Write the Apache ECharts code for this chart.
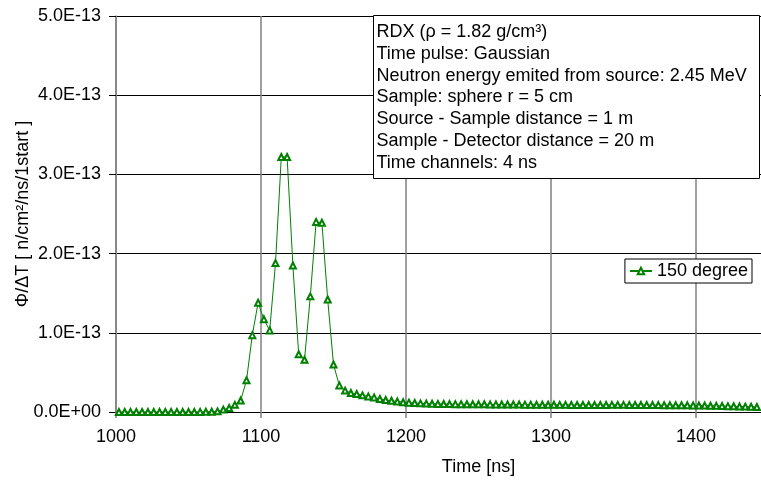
<!DOCTYPE html>
<html>
<head>
<meta charset="utf-8">
<script src="https://cdn.jsdelivr.net/npm/echarts@6/dist/echarts.min.js"></script>
<style>
  html, body { margin: 0; padding: 0; background: #fff; }
  #chart { width: 761px; height: 483px; }
</style>
</head>
<body>
<div id="chart"></div>
<script>
// time channel centres [ns]
const times = [
  1002, 1006, 1010, 1014, 1018, 1022, 1026, 1030, 1034, 1038, 1042, 1046, 1050, 1054, 1058, 1062,
  1066, 1070, 1074, 1078, 1082, 1086, 1090, 1094, 1098, 1102, 1106, 1110, 1114, 1118, 1122, 1126,
  1130, 1134, 1138, 1142, 1146, 1150, 1154, 1158, 1162, 1166, 1170, 1174, 1178, 1182, 1186, 1190,
  1194, 1198, 1202, 1206, 1210, 1214, 1218, 1222, 1226, 1230, 1234, 1238, 1242, 1246, 1250, 1254,
  1258, 1262, 1266, 1270, 1274, 1278, 1282, 1286, 1290, 1294, 1298, 1302, 1306, 1310, 1314, 1318,
  1322, 1326, 1330, 1334, 1338, 1342, 1346, 1350, 1354, 1358, 1362, 1366, 1370, 1374, 1378, 1382,
  1386, 1390, 1394, 1398, 1402, 1406, 1410, 1414, 1418, 1422, 1426, 1430, 1434, 1438, 1442
];

// flux per time channel, in units of 1E-13 n/cm2/ns/1start
const flux150 = [
  0, 0, 0, 0, 0, 0, 0, 0, 0, 0, 0, 0, 0, 0, 0.001, 0.002,
  0.004, 0.008, 0.03, 0.05, 0.09, 0.146, 0.40, 0.97, 1.38, 1.17, 1.03, 1.88, 3.22, 3.22, 1.85, 0.73,
  0.66, 1.46, 2.40, 2.39, 1.42, 0.60, 0.336, 0.27, 0.24, 0.227, 0.21, 0.197, 0.184, 0.165, 0.152, 0.142,
  0.132, 0.124, 0.118, 0.113, 0.109, 0.106, 0.104, 0.102, 0.101, 0.100, 0.099, 0.099, 0.098, 0.098, 0.097, 0.097,
  0.096, 0.096, 0.095, 0.095, 0.094, 0.094, 0.093, 0.093, 0.092, 0.092, 0.091, 0.091, 0.090, 0.090, 0.089, 0.089,
  0.088, 0.088, 0.088, 0.089, 0.089, 0.090, 0.090, 0.090, 0.089, 0.089, 0.088, 0.088, 0.087, 0.087, 0.086, 0.086,
  0.085, 0.085, 0.084, 0.083, 0.082, 0.081, 0.079, 0.078, 0.076, 0.074, 0.072, 0.070, 0.068, 0.066, 0.064
];

const seriesName = '150 degree';
const xTitle = 'Time [ns]';
const yTitle = 'Φ/ΔT [ n/cm²/ns/1start ]';
const infoLines = [
  'RDX (ρ = 1.82 g/cm³)',
  'Time pulse: Gaussian',
  'Neutron energy emited from source: 2.45 MeV',
  'Sample: sphere r = 5 cm',
  'Source - Sample distance = 1 m',
  'Sample - Detector distance = 20 m',
  'Time channels: 4 ns'
];

const FONT = 'Liberation Sans, Arial, sans-serif';

function sciLabel(v) {
  if (v === 0) return '0.0E+00';
  const [m, e] = v.toExponential(1).split('e');
  const n = parseInt(e, 10);
  const sign = n < 0 ? '-' : '+';
  const abs = Math.abs(n);
  return m + 'E' + sign + (abs < 10 ? '0' + abs : abs);
}

const chart = echarts.init(document.getElementById('chart'));

chart.setOption({
  animation: false,
  backgroundColor: '#fff',
  textStyle: { fontFamily: FONT },
  grid: {
    left: 116,
    top: 16,
    bottom: 71,
    right: -80,
    containLabel: false,
    outerBoundsMode: 'none'
  },
  legend: {
    data: [seriesName],
    right: 9,
    top: 259,
    orient: 'vertical',
    backgroundColor: '#fff',
    borderColor: '#000',
    borderWidth: 1,
    borderRadius: 0,
    padding: [3, 4, 3, 4],
    itemWidth: 22,
    itemHeight: 8,
    textStyle: { fontSize: 18, color: '#000', fontFamily: FONT }
  },
  xAxis: {
    type: 'value',
    min: 1000,
    max: 1500,
    interval: 100,
    name: xTitle,
    nameLocation: 'middle',
    nameGap: 46,
    nameMoveOverlap: false,
    nameTextStyle: { fontSize: 18, color: '#000', fontFamily: FONT },
    axisLine: { onZero: false, lineStyle: { color: '#000', width: 1 } },
    axisTick: { show: true, length: 6, lineStyle: { color: '#808080', width: 1.5 } },
    axisLabel: { fontSize: 18, color: '#000', margin: 16, fontFamily: FONT, formatter: (v) => String(v) },
    splitLine: { show: true, lineStyle: { color: '#808080', width: 1.5 } }
  },
  yAxis: {
    type: 'value',
    min: 0,
    max: 5e-13,
    interval: 1e-13,
    name: yTitle,
    nameLocation: 'middle',
    nameRotate: 90,
    nameGap: 84,
    nameMoveOverlap: false,
    nameTextStyle: { fontSize: 18, color: '#000', fontFamily: FONT },
    axisLine: { show: true, lineStyle: { color: '#808080', width: 1.5 } },
    axisTick: { show: true, length: 7, lineStyle: { color: '#000', width: 1 } },
    axisLabel: { fontSize: 18, color: '#000', margin: 15, fontFamily: FONT, formatter: sciLabel },
    splitLine: { show: true, lineStyle: { color: '#000', width: 1 } }
  },
  series: [{
    name: seriesName,
    type: 'line',
    data: times.map((t, i) => [t, flux150[i] * 1e-13]),
    symbol: 'emptyTriangle',
    symbolSize: 6,
    showAllSymbol: true,
    color: '#008000',
    lineStyle: { color: '#008000', width: 1 },
    itemStyle: { color: '#008000', borderColor: '#008000', borderWidth: 1.2 }
  }],
  graphic: [{
    type: 'group',
    left: 373,
    top: 15,
    z: 100,
    children: [{
      type: 'rect',
      z: 100,
      shape: { x: 0, y: 0, width: 386, height: 163 },
      style: { fill: '#fff', stroke: '#000', lineWidth: 1 }
    }, {
      type: 'text',
      z: 101,
      x: 3,
      y: 6,
      style: {
        text: infoLines.join('\n'),
        font: '18px ' + FONT,
        fill: '#000',
        lineHeight: 21.7
      }
    }]
  }]
});
</script>
</body>
</html>
